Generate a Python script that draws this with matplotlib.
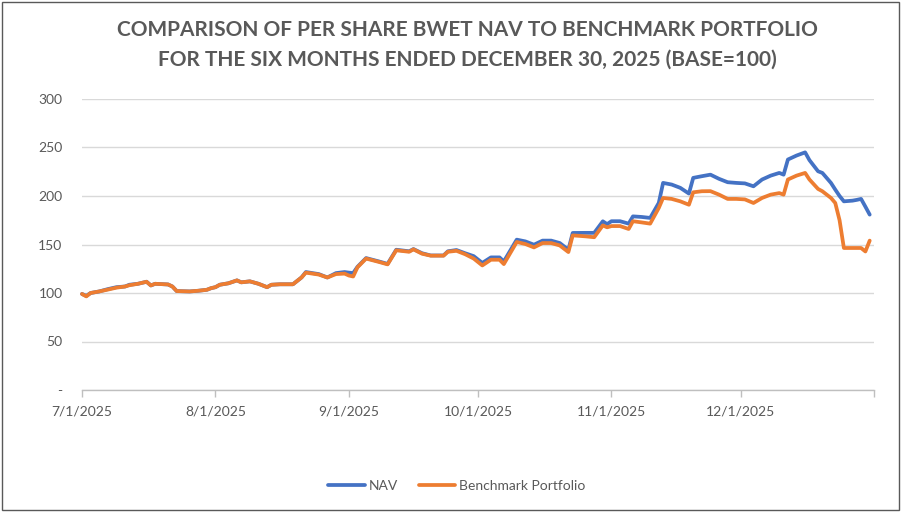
import matplotlib
matplotlib.use("Agg")
import matplotlib.pyplot as plt
import matplotlib.dates as mdates
from matplotlib.patches import Rectangle
import pandas as pd

# ---------------- data ----------------
dates = [
    "2025-07-01", "2025-07-02", "2025-07-03", "2025-07-05", "2025-07-07", "2025-07-09",
    "2025-07-11", "2025-07-12", "2025-07-14", "2025-07-16", "2025-07-17", "2025-07-18",
    "2025-07-21", "2025-07-22", "2025-07-23", "2025-07-26", "2025-07-28", "2025-07-30",
    "2025-07-31", "2025-08-01", "2025-08-02", "2025-08-04", "2025-08-06", "2025-08-07",
    "2025-08-09", "2025-08-11", "2025-08-13", "2025-08-14", "2025-08-16", "2025-08-19",
    "2025-08-21", "2025-08-22", "2025-08-25", "2025-08-27", "2025-08-29", "2025-08-31",
    "2025-09-01", "2025-09-02", "2025-09-03", "2025-09-05", "2025-09-08", "2025-09-10",
    "2025-09-12", "2025-09-15", "2025-09-16", "2025-09-18", "2025-09-20", "2025-09-23",
    "2025-09-24", "2025-09-26", "2025-09-28", "2025-09-30", "2025-10-02", "2025-10-04",
    "2025-10-06", "2025-10-07", "2025-10-10", "2025-10-12", "2025-10-14", "2025-10-16",
    "2025-10-18", "2025-10-20", "2025-10-22", "2025-10-23", "2025-10-26", "2025-10-28",
    "2025-10-30", "2025-10-31", "2025-11-01", "2025-11-03", "2025-11-05", "2025-11-06",
    "2025-11-08", "2025-11-10", "2025-11-12", "2025-11-13", "2025-11-15", "2025-11-17",
    "2025-11-19", "2025-11-20", "2025-11-22", "2025-11-24", "2025-11-26", "2025-11-28",
    "2025-11-30", "2025-12-02", "2025-12-04", "2025-12-06", "2025-12-08", "2025-12-10",
    "2025-12-11", "2025-12-12", "2025-12-14", "2025-12-16", "2025-12-17", "2025-12-19",
    "2025-12-20", "2025-12-22", "2025-12-23", "2025-12-24", "2025-12-25", "2025-12-27",
    "2025-12-28", "2025-12-29", "2025-12-30", "2025-12-31",
]

nav = [
    99, 97, 100, 101.6, 104, 106,
    106.7, 108.5, 109.5, 111.6, 107.8, 109.5,
    108.8, 106.7, 102, 101.6, 102.3, 103.3,
    105, 106, 108.5, 110, 113, 111,
    112, 109.5, 106, 108.5, 109, 109,
    116, 121.6, 119.5, 116, 120.5, 121.6,
    121, 120.5, 127, 136, 132.5, 130,
    144.6, 143, 145.3, 141, 138.7, 138.7,
    143, 144.3, 141, 138, 131, 136.7,
    136.7, 132.5, 155, 153.2, 149.8, 154,
    154, 151.5, 144.6, 161.9, 162, 162,
    173.9, 171, 174, 174, 171.5, 179,
    178.4, 177.4, 192.9, 213.5, 211.8, 208.4,
    202.5, 218.7, 220.4, 222, 217.7, 214.2,
    213.5, 213, 210, 217, 221, 223.8,
    222, 237.6, 241.7, 245, 237, 225.5,
    223.8, 213.5, 206.6, 200, 194.5, 195.2,
    196, 197, 189, 180.8,
]

benchmark = [
    99, 96.5, 100, 101.6, 103.5, 105.5,
    106.7, 108, 109.5, 111.6, 107.8, 109.5,
    108.8, 106.7, 102, 101.6, 102.3, 103.3,
    105, 106, 108.5, 110, 113, 111,
    112, 109.5, 106, 108.5, 109, 109,
    116, 121, 119, 116, 119.5, 120,
    118, 117, 126.5, 135.5, 132, 129.5,
    144, 142.5, 145, 140.5, 138.5, 138.5,
    142.5, 143.5, 140, 135.5, 128.4, 134.3,
    134.3, 129.8, 152.6, 150.5, 147, 151.5,
    151.5, 149, 142.2, 159.4, 158.4, 157.5,
    169.7, 167.7, 169, 169, 166, 174,
    172.8, 171.5, 187.7, 198, 197, 194.5,
    191, 203.8, 204.9, 205, 201.4, 197,
    197, 196.5, 192.8, 198, 201.4, 203,
    201.4, 217, 221, 223.8, 217, 207.3,
    204.9, 198, 192.8, 175, 146.4, 146.4,
    146.4, 146.4, 142.8, 154,
]

y_ticks = [0, 50, 100, 150, 200, 250, 300]
y_tick_labels = ["-", "50", "100", "150", "200", "250", "300"]
x_tick_dates = ["2025-07-01", "2025-08-01", "2025-09-01", "2025-10-01", "2025-11-01", "2025-12-01"]
x_tick_labels = ["7/1/2025", "8/1/2025", "9/1/2025", "10/1/2025", "11/1/2025", "12/1/2025"]
title_lines = ["COMPARISON OF PER SHARE BWET NAV TO BENCHMARK PORTFOLIO",
               "FOR THE SIX MONTHS ENDED DECEMBER 30, 2025 (BASE=100)"]
series_names = ["NAV", "Benchmark Portfolio"]

# ---------------- style ----------------
plt.rcParams["font.family"] = ["Lato", "DejaVu Sans"]
TEXT = "#595959"
GRID = "#D9D9D9"
BLUE = "#4472C4"
ORANGE = "#ED7D31"

W, H = 904, 513
fig = plt.figure(figsize=(W / 100, H / 100), dpi=100)
fig.patch.set_facecolor("white")

L, R, T, B = 82, 874, 99, 390
ax = fig.add_axes([L / W, 1 - B / H, (R - L) / W, (B - T) / H])

x = pd.to_datetime(dates)
ax.plot(x, nav, color=BLUE, lw=2.7, label=series_names[0], solid_joinstyle="round",
        solid_capstyle="round", zorder=3, clip_on=False)
ax.plot(x, benchmark, color=ORANGE, lw=2.7, label=series_names[1], solid_joinstyle="round",
        solid_capstyle="round", zorder=4, clip_on=False)

ax.set_ylim(0, 300)
ax.set_xlim(pd.Timestamp("2025-07-01"), pd.Timestamp("2026-01-01"))

ax.set_yticks(y_ticks)
ax.set_yticklabels(y_tick_labels)
ax.tick_params(axis="y", length=0, pad=14, labelsize=10, labelcolor=TEXT)

xt = list(pd.to_datetime(x_tick_dates)) + [pd.Timestamp("2026-01-01")]
ax.set_xticks(xt)
ax.set_xticklabels(x_tick_labels + [""])
ax.tick_params(axis="x", length=5, width=1, color="#BFBFBF", pad=6, labelsize=10,
               labelcolor=TEXT, direction="out")

ax.grid(axis="y", color=GRID, lw=1)
ax.set_axisbelow(True)
for s in ["top", "right", "left"]:
    ax.spines[s].set_visible(False)
ax.spines["bottom"].set_color("#BFBFBF")
ax.spines["bottom"].set_linewidth(1)

# title
fig.text(467 / W, 1 - 30 / H, title_lines[0], ha="center", va="center",
         fontsize=15, fontweight="bold", color=TEXT)
fig.text(467 / W, 1 - 60 / H, title_lines[1], ha="center", va="center",
         fontsize=15, fontweight="bold", color=TEXT)

# legend
handles, labels = ax.get_legend_handles_labels()
fig.legend(handles, labels, loc="center", bbox_to_anchor=(457 / W, 1 - 486 / H), ncol=2,
           frameon=False, fontsize=10, labelcolor=TEXT, handlelength=2.6,
           handletextpad=0.3, columnspacing=1.5)

# outer border
fig.patches.append(Rectangle((2 / W, 3 / H), 897 / W, 508 / H, transform=fig.transFigure,
                             fill=False, edgecolor="#595959", lw=1))

fig.savefig("out.png", dpi=100)
